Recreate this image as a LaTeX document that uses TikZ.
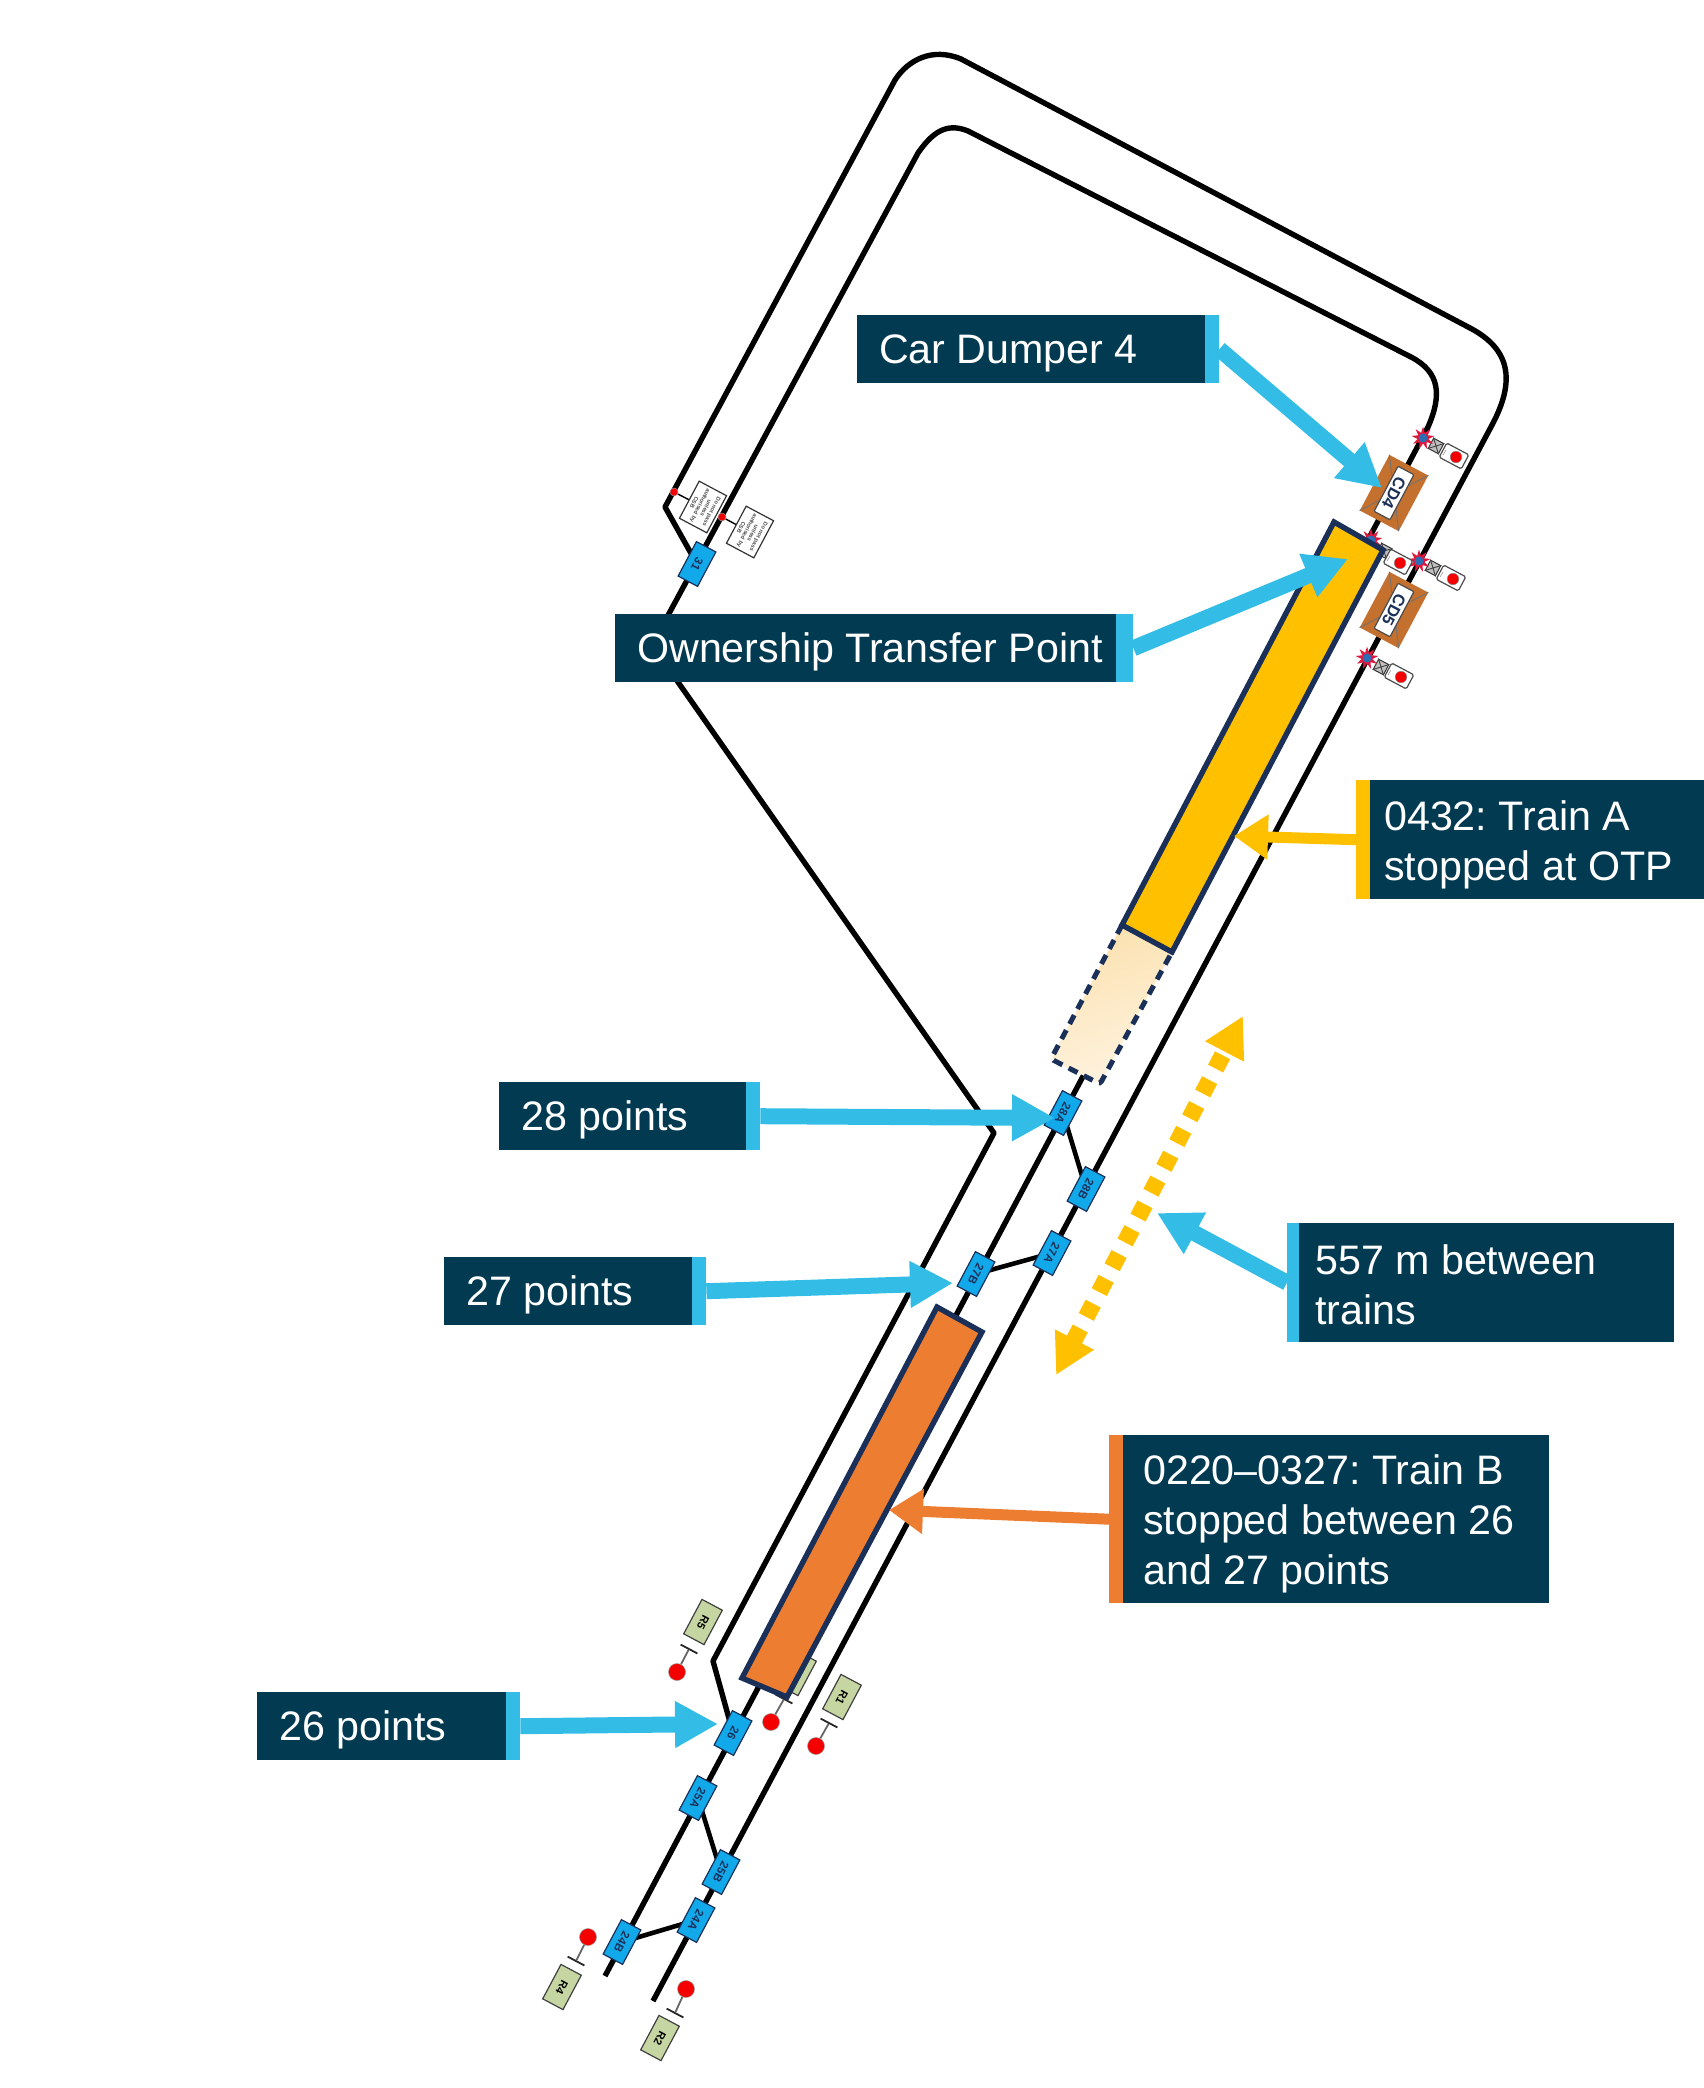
\documentclass[tikz,border=0pt]{standalone}
\usepackage{fontspec}
\setmainfont{Liberation Sans}
\usetikzlibrary{arrows.meta,shapes.geometric,calc}
\pgfdeclarelayer{trackbg}
\pgfsetlayers{trackbg,main}
\definecolor{navylab}{HTML}{023A51}
\definecolor{accentblue}{HTML}{33BDE6}
\definecolor{trainyellow}{HTML}{FFC000}
\definecolor{trainorange}{HTML}{ED7D31}
\definecolor{trainedge}{HTML}{1B3058}
\definecolor{ptblue}{HTML}{12A9EB}
\definecolor{signgreen}{HTML}{C6D6A2}
\definecolor{dumpbrown}{HTML}{C4702F}
\definecolor{starred}{HTML}{E0183C}
\definecolor{starblue}{HTML}{2E6DB4}
\definecolor{dotred}{HTML}{F40000}
\definecolor{ghostA}{HTML}{FBE1B0}
\definecolor{ghostB}{HTML}{FFF3DF}
\tikzset{
  trackline/.style={line width=5.4pt,black,line join=round},
  xover/.style={line width=4.6pt,black},
  ptbox/.style={rectangle,draw=trainedge,line width=1.2pt,fill=ptblue,minimum width=39pt,minimum height=22pt,inner sep=0pt,rotate=-118,font=\fontsize{11.5}{12}\selectfont\bfseries,text=trainedge},
  greenbox/.style={rectangle,draw=black!75,line width=1.2pt,fill=signgreen,minimum width=39pt,minimum height=23pt,inner sep=0pt,rotate=-118,font=\fontsize{11}{12}\selectfont\bfseries,text=black},
  reddot/.style={circle,draw=black!40,line width=.5pt,fill=dotred,minimum size=17pt,inner sep=0pt},
  smalldot/.style={circle,draw=black!40,line width=.5pt,fill=dotred,minimum size=8pt,inner sep=0pt},
  stopbar/.style={rectangle,fill=black!85,minimum width=1.8pt,minimum height=19pt,inner sep=0pt,rotate=-118},
  stem/.style={line width=1.8pt,black!60},
  noticebox/.style={rectangle,draw=black!80,line width=1.2pt,fill=white,minimum width=42pt,minimum height=31pt,inner sep=0pt,rotate=-118,align=center,font=\fontsize{5.6}{6.6}\selectfont\bfseries,text=black!70},
  dumpbase/.style={rectangle,fill=dumpbrown,minimum width=63pt,minimum height=44pt,inner sep=0pt,rotate=-118},
  dumpcap/.style={rectangle,rounded corners=1pt,draw=black!70,line width=1.2pt,fill=white,minimum width=51pt,minimum height=18pt,inner sep=0pt,rotate=-118,font=\fontsize{16.5}{17}\selectfont\bfseries,text=trainedge},
  hatchline/.style={line width=.9pt,black!75},
  sigbox/.style={rectangle,rounded corners=1.5pt,draw=black!70,line width=1.2pt,fill=white,minimum width=25pt,minimum height=16pt,inner sep=0pt,rotate=-28},
  sighead/.style={rectangle,draw=black!80,line width=1pt,fill=black!25,minimum size=11.5pt,inner sep=0pt,rotate=-28},
  sigdot/.style={circle,draw=black!50,line width=.4pt,fill=dotred,minimum size=11.5pt,inner sep=0pt},
  sigstar/.style={star,star points=9,star point ratio=2.1,fill=starred,minimum size=23pt,inner sep=0pt},
  sigcore/.style={circle,fill=starblue,minimum size=9pt,inner sep=0pt},
  lab/.style={rectangle,fill=navylab,anchor=north west,inner sep=0pt},
  labtext/.style={anchor=west,inner sep=0pt,text=white,align=left,font=\fontsize{41.2}{50}\selectfont\frenchspacing},
  accent/.style={rectangle,anchor=north west,inner sep=0pt},
  blockarrow/.style={line width=16pt,draw=accentblue,-{Triangle[length=43pt,width=44pt]}},
  colarrow/.style={line width=11pt,-{Triangle[length=34pt,width=43pt]}},
}
\begin{document}
\begin{tikzpicture}[x=1pt,y=-1pt]
\useasboundingbox (0,0) rectangle (1704,2088);
% named way points
\coordinate (rb) at (653,2001);
\coordinate (r1) at (1492,425);
\coordinate (r2) at (1470,328);
\coordinate (r3) at (961,59);
\coordinate (r4) at (895,80);
\coordinate (rk) at (665,507);
\coordinate (ib) at (605,1976);
\coordinate (i1) at (1428,427);
\coordinate (i2) at (1411,357);
\coordinate (i3) at (968,131);
\coordinate (i4) at (918,153);
\coordinate (k1) at (652,645);
\coordinate (k2) at (994,1133);
\coordinate (k3) at (713,1661);
% point boxes
\node[ptbox] (p31) at (697,564) {31};
\node[ptbox] (p28A) at (1063,1113) {28A};
\node[ptbox] (p28B) at (1086,1189) {28B};
\node[ptbox] (p27A) at (1052,1253) {27A};
\node[ptbox] (p27B) at (976,1274) {27B};
\node[ptbox] (p26) at (733,1733) {26};
\node[ptbox] (p25A) at (698,1798) {25A};
\node[ptbox] (p25B) at (721,1872) {25B};
\node[ptbox] (p24A) at (696,1920) {24A};
\node[ptbox] (p24B) at (622,1942) {24B};
% tracks, behind the boxes
\begin{pgfonlayer}{trackbg}
\draw[trackline] (rb) -- (r1) .. controls (1516,380) and (1510,349) .. (r2) -- (r3) .. controls (932,47) and (908,60) .. (r4) -- (rk) -- (p31.center);
\draw[trackline] (ib) -- (i1) .. controls (1442,395) and (1440,372) .. (i2) -- (i3) .. controls (946,122) and (932,133) .. (i4) -- (k1) -- (k2) -- (k3) -- (p26.center);
\draw[xover] (p28A.center) -- (p28B.center);
\draw[xover] (p27B.center) -- (p27A.center);
\draw[xover] (p25A.center) -- (p25B.center);
\draw[xover] (p24B.center) -- (p24A.center);
\end{pgfonlayer}
% notices near 31
\node[smalldot] (nd1) at (674,492) {};
\node[noticebox] (nb1) at (703,507) {Do not pass\\unless\\authorised by\\CSB};
\draw[line width=1.4pt,black] (nd1) -- (nb1);
\node[smalldot] (nd2) at (722,517) {};
\node[noticebox] (nb2) at (750,532) {Do not pass\\unless\\authorised by\\CSB};
\draw[line width=1.4pt,black] (nd2) -- (nb2);
% car dumpers
\foreach \nm/\yy/\tx in {a/493/CD4,b/610/CD5}{
  \node[dumpbase] (dump\nm) at (1394,\yy) {};
  \draw[hatchline,black!55] (dump\nm.north west) -- (dump\nm.south east);
  \draw[hatchline,black!55] (dump\nm.north east) -- (dump\nm.south west);
  \node[dumpcap] (cap\nm) at (1394,\yy) {\tx};
}
% signals
\foreach \nm/\sx/\sy/\hx/\hy/\dx/\dy in {a/1423/438/1436/446/1456/457,b/1419/561/1433/568/1453/579,c/1367/658/1381/667/1401/677,d/1371/540/1384/551/1400/563}{
  \node[sighead] (sh\nm) at (\hx,\hy) {};
  \draw[hatchline] (sh\nm.north west) -- (sh\nm.south east);
  \draw[hatchline] (sh\nm.north east) -- (sh\nm.south west);
  \node[sigbox] (sb\nm) at ($(\dx,\dy)+(-2,-1)$) {};
  \node[sigdot] (sd\nm) at (\dx,\dy) {};
  \draw[line width=.6pt,black!40] ($(sb\nm.center)+(-11,-1)$) -- ($(sb\nm.center)+(-8,-6)$);
  \node[sigstar] (ss\nm) at (\sx,\sy) {};
  \node[sigcore] (sc\nm) at (\sx,\sy) {};
}
% stop signs
\foreach \nm/\tx/\dx/\dy/\bx/\by/\gx/\gy in {e/R5/677/1672/689/1649/703/1622,a/R1/816/1746/829/1723/842/1697,b/R4/588/1937/576/1961/562/1987,c/R2/686/1989/675/2013/660/2038,h//771/1722/784/1699/797/1673}{
  \node[reddot] (sr\nm) at (\dx,\dy) {};
  \node[stopbar] (sbar\nm) at (\bx,\by) {};
  \draw[stem] (sr\nm) -- (sbar\nm);
  \node[greenbox] (sg\nm) at (\gx,\gy) {\tx};
}
% trains
\coordinate (dtl) at (1122,925);
\coordinate (dtr) at (1172,952);
\coordinate (dbl) at (1051,1059);
\coordinate (dbr) at (1100,1084);
\path[rounded corners=3pt,left color=ghostA,right color=ghostB,shading angle=20] (dtl) -- (dbl) -- (dbr) -- (dtr) -- cycle;
\draw[rounded corners=3pt,trainedge,line width=5pt,dash pattern=on 10pt off 7pt] (dtl) -- (dbl) -- (dbr) -- (dtr);
\coordinate (ya) at (1334,522);
\coordinate (yb) at (1383,550);
\draw[trainedge,line width=5.4pt,fill=trainyellow,line join=miter] (ya) -- (yb) -- (dtr) -- (dtl) -- cycle;
\coordinate (oa) at (937,1307);
\coordinate (ob) at (982,1332);
\coordinate (oc) at (787,1697);
\coordinate (od) at (742,1678);
\draw[trainedge,line width=5.4pt,fill=trainorange,line join=miter] (oa) -- (ob) -- (oc) -- (od) -- cycle;
% labels
\node[lab,minimum width=348pt,minimum height=68pt] (lcd) at (857,315) {};
\node[labtext] (tcdx) at ($(lcd.west)+(22,4)$) {Car Dumper 4};
\node[accent,fill=accentblue,minimum width=14pt,minimum height=68pt] (acd) at (1205,315) {};
\node[lab,minimum width=501pt,minimum height=68pt] (lot) at (615,614) {};
\node[labtext] (totx) at ($(lot.west)+(22,4)$) {Ownership Transfer Point};
\node[accent,fill=accentblue,minimum width=17pt,minimum height=68pt] (aot) at (1116,614) {};
\node[lab,minimum width=247pt,minimum height=68pt] (l28) at (499,1082) {};
\node[labtext] (t28x) at ($(l28.west)+(22,4)$) {28 points};
\node[accent,fill=accentblue,minimum width=14pt,minimum height=68pt] (a28) at (746,1082) {};
\node[lab,minimum width=248pt,minimum height=68pt] (l27) at (444,1257) {};
\node[labtext] (t27x) at ($(l27.west)+(22,4)$) {27 points};
\node[accent,fill=accentblue,minimum width=14pt,minimum height=68pt] (a27) at (692,1257) {};
\node[lab,minimum width=249pt,minimum height=68pt] (l26) at (257,1692) {};
\node[labtext] (t26x) at ($(l26.west)+(22,4)$) {26 points};
\node[accent,fill=accentblue,minimum width=14pt,minimum height=68pt] (a26) at (506,1692) {};
\node[accent,fill=trainyellow,minimum width=14pt,minimum height=119pt] (aA) at (1356,780) {};
\node[lab,minimum width=334pt,minimum height=119pt] (lA) at (1370,780) {};
\node[labtext] (tAx) at ($(lA.west)+(14,5)$) {0432: Train A\\stopped at OTP};
\node[accent,fill=accentblue,minimum width=12pt,minimum height=119pt] (agap) at (1287,1223) {};
\node[lab,minimum width=375pt,minimum height=119pt] (lgap) at (1299,1223) {};
\node[labtext] (tgapx) at ($(lgap.west)+(16,2)$) {557 m between\\trains};
\node[accent,fill=trainorange,minimum width=14pt,minimum height=168pt] (aB) at (1109,1435) {};
\node[lab,minimum width=426pt,minimum height=168pt] (lB) at (1123,1435) {};
\node[labtext] (tBx) at ($(lB.west)+(20,5)$) {0220–0327: Train B\\stopped between 26\\and 27 points};
% arrows
\coordinate (tcd) at (1382,488);
\coordinate (tot) at (1348,559);
\coordinate (t28) at (1055,1118);
\coordinate (t27) at (953,1283);
\coordinate (t26) at (718,1724);
\coordinate (tgap) at (1157,1213);
\coordinate (tA) at (1234,836);
\coordinate (tB) at (889,1510);
\draw[blockarrow] (acd.east) -- (tcd);
\draw[blockarrow] (aot.east) -- (tot);
\draw[blockarrow] (a28.east) -- (t28);
\draw[blockarrow] (a27.east) -- (t27);
\draw[blockarrow] (a26.east) -- (t26);
\draw[blockarrow] (agap.west) -- (tgap);
\draw[colarrow,draw=trainyellow] (aA.west) -- (tA);
\draw[colarrow,draw=trainorange] (aB.west) -- (tB);
% dotted double arrow
\coordinate (gt) at (1243,1016);
\coordinate (gb) at (1056,1375);
\draw[trainyellow,line width=17pt,dash pattern=on 15pt off 13pt,{Triangle[length=40pt,width=41pt]}-{Triangle[length=40pt,width=41pt]}] (gb) -- (gt);
\end{tikzpicture}
\end{document}
